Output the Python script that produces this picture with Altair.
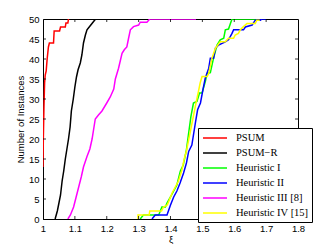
import altair as alt
import pandas as pd

series_names = ["PSUM", "PSUM\u2212R", "Heuristic I", "Heuristic II", "Heuristic III [8]", "Heuristic IV [15]"]
series_colors = ["#ff0000", "#000000", "#00ff00", "#0000ff", "#ff00ff", "#ffff00"]

psum_x = [1.0, 1.0, 1.001, 1.003, 1.005, 1.007, 1.01, 1.013, 1.017, 1.02, 1.033, 1.035, 1.052, 1.055, 1.07, 1.072, 1.078, 1.08]
psum_y = [13, 13, 20, 28, 34, 36, 37, 40, 43, 44, 44, 47, 47, 48, 48, 49, 49, 50]

psumr_x = [1.038, 1.045, 1.05, 1.055, 1.06, 1.065, 1.07, 1.075, 1.08, 1.085, 1.089, 1.095, 1.1, 1.105, 1.11, 1.117, 1.122, 1.127, 1.133, 1.138, 1.145, 1.155, 1.165, 1.335]
psumr_y = [0, 2, 4, 6, 9.5, 12, 15, 17.5, 20, 23, 27, 30, 33, 35.5, 37.3, 39, 41, 44, 46, 47.3, 48, 49, 50, 50]

h1_x = [1.305, 1.315, 1.363, 1.373, 1.384, 1.389, 1.4, 1.41, 1.42, 1.431, 1.44, 1.45, 1.457, 1.464, 1.472, 1.483, 1.491, 1.499, 1.509, 1.515, 1.525, 1.535, 1.546, 1.556, 1.567, 1.572, 1.582, 1.588, 1.593, 1.671]
h1_y = [0, 1, 1, 3, 3, 4, 5.5, 7, 8.5, 12, 13.5, 17.3, 21.5, 25.6, 29, 29.4, 31.5, 31.5, 34.3, 36.4, 36.6, 40.2, 43.5, 44.8, 45.2, 47.3, 47.5, 48.9, 50, 50]

h2_x = [1.342, 1.352, 1.389, 1.4, 1.41, 1.42, 1.43, 1.441, 1.45, 1.457, 1.467, 1.478, 1.485, 1.494, 1.502, 1.509, 1.52, 1.525, 1.535, 1.541, 1.551, 1.562, 1.572, 1.582, 1.593, 1.598, 1.629, 1.635, 1.656, 1.666, 1.682, 1.687, 1.7]
h2_y = [0, 1, 1, 3.5, 5.5, 7, 9, 11.5, 14, 16.9, 18.5, 24, 27.3, 29, 32.4, 35.2, 37.7, 40.2, 40.2, 42.7, 43.5, 43.9, 44.3, 44.8, 46.4, 47.3, 47.3, 48, 48.5, 49.7, 49.7, 50, 50]

h3_x = [1.078, 1.086, 1.096, 1.104, 1.112, 1.12, 1.127, 1.138, 1.147, 1.154, 1.16, 1.164, 1.174, 1.185, 1.2, 1.211, 1.222, 1.227, 1.237, 1.248, 1.255, 1.263, 1.268, 1.274, 1.284, 1.3, 1.305, 1.326, 1.335, 1.48]
h3_y = [0, 1, 3, 5.5, 8, 10.5, 13, 15.6, 17.5, 20, 23, 25, 26, 27, 29, 30.5, 32.5, 35, 37.7, 41.4, 42.3, 43, 45, 47.3, 48.1, 48.5, 49.2, 49.2, 50, 50]

h4_x = [1.298, 1.298, 1.333, 1.335, 1.372, 1.378, 1.39, 1.405, 1.415, 1.425, 1.436, 1.443, 1.45, 1.46, 1.47, 1.48, 1.488, 1.493, 1.499, 1.515, 1.52, 1.53, 1.541, 1.556, 1.572, 1.582, 1.598, 1.603, 1.613, 1.619, 1.629, 1.64, 1.666, 1.671, 1.68]
h4_y = [0, 1, 1, 2, 2, 3, 3.5, 6.5, 8, 9.5, 12.3, 15, 17, 21, 25, 29, 32, 34, 35.6, 35.6, 36.4, 40.2, 42.7, 44.3, 44.3, 45.2, 45.2, 46, 46.4, 47.3, 48.1, 48.9, 48.9, 49.7, 49.7]

x_ticks = [1.0, 1.1, 1.2, 1.3, 1.4, 1.5, 1.6, 1.7, 1.8]
y_ticks = [0, 5, 10, 15, 20, 25, 30, 35, 40, 45, 50]

all_x = [psum_x, psumr_x, h1_x, h2_x, h3_x, h4_x]
all_y = [psum_y, psumr_y, h1_y, h2_y, h3_y, h4_y]

rows = []
for name, xs, ys in zip(series_names, all_x, all_y):
    for i, (xv, yv) in enumerate(zip(xs, ys)):
        rows.append({"series": name, "xi": xv, "n": yv, "idx": i})
df = pd.DataFrame(rows)

W, H = 255, 200
xscale = alt.Scale(domain=[1.0, 1.8], nice=False, zero=False)
yscale = alt.Scale(domain=[0, 50], nice=False, zero=False)
x_axis = alt.Axis(values=x_ticks, title="\u03be", tickSize=0, labelOverlap=False, labelFlush=False,
                  labelPadding=4, titlePadding=2,
                  labelExpr="datum.value == 1 ? '1' : format(datum.value, '.1f')")
y_axis = alt.Axis(values=y_ticks, title="Number of Instances", tickSize=0, labelOverlap=False, labelFlush=False,
                  labelPadding=4, titlePadding=3)
color = alt.Color(
    "series:N",
    scale=alt.Scale(domain=series_names, range=series_colors),
    sort=series_names,
    legend=alt.Legend(
        orient="none", legendX=155, legendY=109, title=None,
        symbolType="M-2,0L2,0", symbolSize=144, symbolStrokeWidth=1.5,
        symbolOffset=7, labelOffset=14,
        labelFont="Liberation Serif", labelFontSize=10.5, labelColor="black",
        strokeColor="black", fillColor="white", padding=3, rowPadding=2,
    ),
)

layers = []
for name in series_names:
    layers.append(
        alt.Chart(df).transform_filter(alt.datum.series == name).mark_line(strokeWidth=1.5, clip=True).encode(
            x=alt.X("xi:Q", scale=xscale, axis=x_axis),
            y=alt.Y("n:Q", scale=yscale, axis=y_axis),
            color=color,
            order="idx:O",
        )
    )

xt = pd.DataFrame({"t": x_ticks[1:-1]})
yt = pd.DataFrame({"t": y_ticks[1:-1]})
tick_style = dict(color="black", strokeWidth=0.8)
xb = alt.Chart(xt).mark_rule(**tick_style).encode(x=alt.X("t:Q", scale=xscale, axis=x_axis), y=alt.value(H), y2=alt.value(H - 3))
xtp = alt.Chart(xt).mark_rule(**tick_style).encode(x=alt.X("t:Q", scale=xscale, axis=x_axis), y=alt.value(0), y2=alt.value(3))
yl = alt.Chart(yt).mark_rule(**tick_style).encode(y=alt.Y("t:Q", scale=yscale, axis=y_axis), x=alt.value(0), x2=alt.value(3))
yr = alt.Chart(yt).mark_rule(**tick_style).encode(y=alt.Y("t:Q", scale=yscale, axis=y_axis), x=alt.value(W), x2=alt.value(W - 3))

chart = alt.layer(*layers, xb, xtp, yl, yr).properties(
    width=W, height=H,
    autosize=alt.AutoSizeParams(type="none"),
    padding={"left": 35, "top": 11, "right": 21, "bottom": 25},
).configure_view(stroke="black", strokeWidth=1).configure_axis(
    domainColor="black", domainWidth=1, grid=False,
    labelFont="Liberation Sans", labelFontSize=9.5, labelColor="black",
    titleFont="Liberation Sans", titleFontSize=9.5, titleFontWeight="normal", titleColor="black",
)

chart.save("out.html", embed_options={"renderer": "svg", "actions": False})
